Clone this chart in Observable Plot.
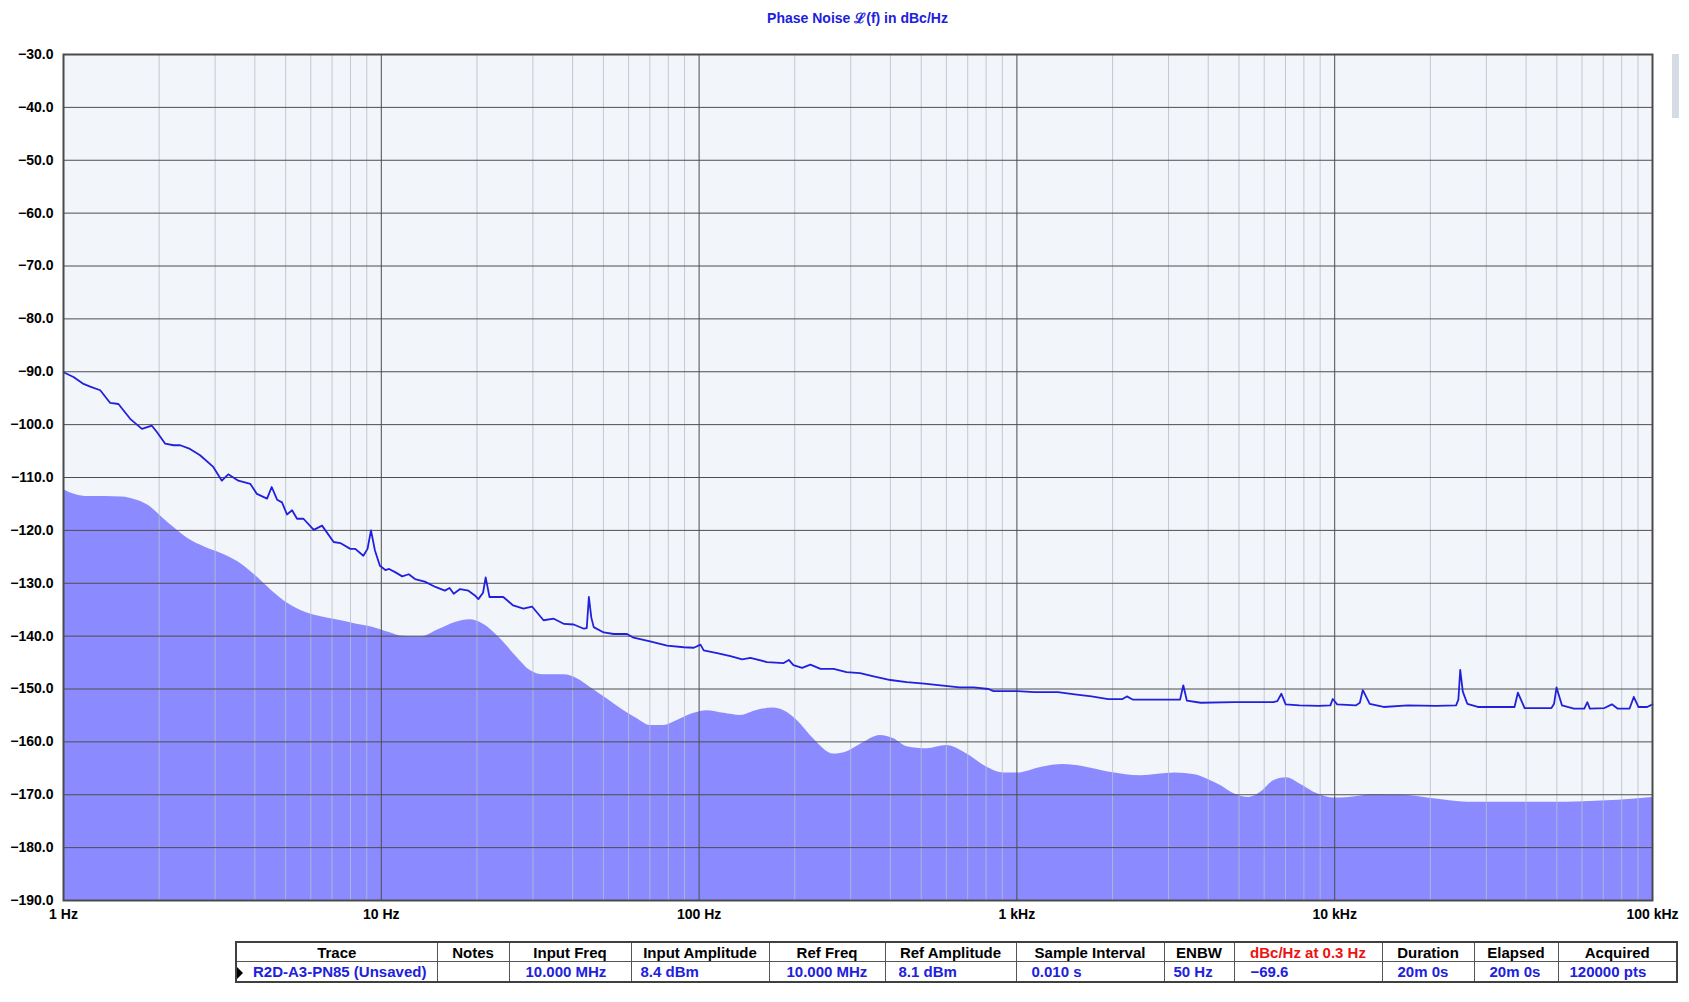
<!DOCTYPE html>
<html>
<head>
<meta charset="utf-8">
<script src="https://cdn.jsdelivr.net/npm/d3@7"></script>
<script src="https://cdn.jsdelivr.net/npm/@observablehq/plot@0.6"></script>
<style>
  body { margin: 0; background: #ffffff; font-family: Arial, "Liberation Sans", sans-serif; }
  #title { position: absolute; left: 63px; width: 1589px; top: 8px; text-align: center;
           font-size: 14px; font-weight: bold; color: #2020dd; }
  #chart { position: absolute; left: 0; top: 0; }
  #chart svg { overflow: visible; }
  #scroll { position: absolute; left: 1672px; top: 54px; width: 7px; height: 64px; background: #d6dce6; }
  #info { position: absolute; left: 235px; top: 941px; width: 1441px; border-collapse: collapse;
          border: 2px solid #404040; font-size: 15px; font-weight: bold; table-layout: fixed; }
  #info th, #info td { border: 1px solid #555; padding: 0; white-space: nowrap; overflow: hidden; }
  #info th { height: 18px; text-align: center; color: #000; font-weight: bold; }
  #info td { height: 19px; text-align: left; color: #2020dd; }
  #info th.red { color: #ee1111; }
  .tri { display: inline-block; width: 0; height: 0; border-top: 6px solid transparent; border-bottom: 6px solid transparent;
         border-left: 6px solid #000; vertical-align: middle; margin-right: 10px; margin-left: 0; }
</style>
</head>
<body>
<div id="title">Phase Noise ℒ(f) in dBc/Hz</div>
<div id="chart"></div>
<div id="scroll"></div>
<table id="info"></table>
<script>
// ---------- Data ----------
const xTickValues = [1, 10, 100, 1000, 10000, 100000];
const xTickLabels = ["1 Hz", "10 Hz", "100 Hz", "1 kHz", "10 kHz", "100 kHz"];
const yTickValues = [-30, -40, -50, -60, -70, -80, -90, -100, -110, -120, -130, -140, -150, -160, -170, -180, -190];
const yTickLabels = ["−30.0", "−40.0", "−50.0", "−60.0", "−70.0", "−80.0", "−90.0", "−100.0", "−110.0", "−120.0",
                     "−130.0", "−140.0", "−150.0", "−160.0", "−170.0", "−180.0", "−190.0"];

// Measured phase-noise trace (Hz, dBc/Hz)
const traceFreq = [1, 1.075, 1.156, 1.213, 1.305, 1.403, 1.489, 1.621, 1.765, 1.897, 1.967, 2.09, 2.22, 2.33, 2.5, 2.69,
  2.96, 3.15, 3.3, 3.55, 3.87, 4.06, 4.37, 4.52, 4.7, 4.87, 5.05, 5.24, 5.43, 5.69, 6.13, 6.51, 7.08, 7.43, 7.99, 8.28,
  8.78, 9.05, 9.28, 9.55, 9.9, 10.3, 10.58, 11.05, 11.64, 12.2, 12.77, 13.7, 14.8, 15.85, 16.4, 16.9, 17.7, 18.8, 19.7,
  20.2, 20.9, 21.3, 21.9, 24.2, 26.0, 28.0, 29.8, 32.4, 34.9, 37.6, 40.3, 43.4, 44.3, 45.0, 45.8, 46.6, 50.1, 53.9,
  59.3, 62.2, 70.1, 79.3, 89.5, 96.3, 101, 103.4, 113.9, 125.5, 136.6, 145, 163.5, 184.6, 191.6, 198, 211, 224, 241,
  265, 291, 321, 354, 400, 450, 511, 575, 660, 730, 814, 844, 1005, 1134, 1346, 1520, 1717, 1937, 2150, 2218, 2313,
  2651, 3144, 3262, 3339, 3426, 3790, 4818, 6406, 6600, 6796, 7010, 7747, 8920, 9690, 9860, 10180, 11650, 12000, 12260,
  12890, 14250, 16990, 20840, 24100, 24500, 24830, 25300, 26140, 28200, 33700, 36800, 37700, 39600, 48100, 49000, 49900,
  51900, 56600, 61000, 62400, 63500, 70600, 74500, 77600, 84700, 87300, 90300, 96200, 100000];
const traceLevel = [-90.1, -91.0, -92.3, -92.8, -93.5, -95.9, -96.1, -98.9, -100.8, -100.2, -101.4, -103.6, -103.9,
  -103.9, -104.6, -105.8, -108.0, -110.6, -109.4, -110.6, -111.2, -113.1, -114.0, -111.8, -114.2, -114.7, -117.0,
  -116.2, -117.8, -117.8, -119.9, -119.1, -122.2, -122.4, -123.5, -123.5, -124.8, -123.5, -120.0, -123.8, -126.7,
  -127.5, -127.3, -127.9, -128.7, -128.3, -129.2, -129.7, -130.7, -131.4, -130.9, -132.0, -131.1, -131.4, -132.3,
  -133.0, -131.8, -128.9, -132.6, -132.6, -134.2, -134.8, -134.4, -137.0, -136.7, -137.7, -137.8, -138.6, -138.5,
  -132.6, -136.5, -138.3, -139.3, -139.6, -139.6, -140.3, -141.0, -141.8, -142.1, -142.2, -141.6, -142.7, -143.2,
  -143.8, -144.4, -144.1, -144.9, -145.1, -144.5, -145.5, -146.0, -145.4, -146.2, -146.2, -146.8, -147.0, -147.6,
  -148.3, -148.7, -149.0, -149.3, -149.7, -149.7, -150.0, -150.4, -150.4, -150.6, -150.6, -151.0, -151.4, -151.9,
  -151.9, -151.4, -152.0, -152.0, -152.0, -152.0, -149.3, -152.2, -152.6, -152.5, -152.5, -152.3, -150.9, -152.9,
  -153.1, -153.2, -153.1, -151.9, -152.9, -153.1, -152.6, -150.2, -152.8, -153.4, -153.1, -153.2, -153.1, -152.0,
  -146.4, -150.5, -152.8, -153.4, -153.4, -153.4, -150.7, -153.6, -153.6, -152.8, -149.7, -153.1, -153.7, -153.7,
  -152.5, -153.7, -153.6, -152.9, -153.7, -153.7, -151.5, -153.4, -153.4, -152.9];

// Shaded region (Hz, dBc/Hz)
const floorFreq = [1, 1.088, 1.198, 1.353, 1.527, 1.681, 1.852, 2.04, 2.25, 2.47, 2.79, 3.15, 3.55, 4.01, 4.52, 5.1,
  5.76, 6.52, 7.36, 8.3, 9.37, 10.58, 11.64, 13.4, 15.1, 17.1, 19.0, 20.9, 23.7, 26.7, 29.4, 32.4, 37.6, 41.5, 45.5,
  51.4, 58.0, 63.7, 70.1, 77.3, 85.0, 96.3, 106, 120, 135, 151, 171, 185, 204, 229, 265, 291, 321, 372, 410, 451, 522,
  601, 696, 805, 910, 1005, 1197, 1397, 1623, 1937, 2454, 3144, 3637, 3964, 4390, 4818, 5380, 5860, 6406, 7050, 7747,
  8820, 9950, 11100, 13190, 16320, 20840, 26140, 33700, 43200, 53600, 69000, 88200, 100000];
const floorLevel = [-112.3, -113.2, -113.6, -113.6, -113.7, -114.2, -115.3, -117.5, -119.7, -121.6, -123.2, -124.4,
  -126.0, -128.5, -131.4, -133.9, -135.5, -136.4, -137.0, -137.7, -138.3, -139.3, -140.0, -140.1, -138.8, -137.4,
  -136.9, -137.7, -140.5, -144.0, -146.5, -147.3, -147.3, -148.1, -149.7, -151.9, -154.1, -155.6, -156.9, -156.9,
  -156.0, -154.6, -154.1, -154.6, -155.0, -154.1, -153.6, -154.1, -156.0, -159.4, -162.3, -161.9, -160.5, -158.8,
  -159.4, -160.9, -161.3, -160.7, -162.3, -164.8, -165.9, -165.9, -164.8, -164.3, -164.7, -165.7, -166.4, -165.9,
  -166.2, -167.0, -168.3, -169.8, -170.5, -169.5, -167.4, -166.8, -167.9, -169.8, -170.6, -170.5, -170.0, -170.1,
  -170.8, -171.4, -171.4, -171.4, -171.4, -171.2, -170.8, -170.5];

// Info table
const tableHeaders = ["Trace", "Notes", "Input Freq", "Input Amplitude", "Ref Freq", "Ref Amplitude",
  "Sample Interval", "ENBW", "dBc/Hz at 0.3 Hz", "Duration", "Elapsed", "Acquired"];
const tableValues = ["R2D-A3-PN85 (Unsaved)", "", "10.000 MHz", "8.4 dBm", "10.000 MHz", "8.1 dBm",
  "0.010 s", "50 Hz", "−69.6", "20m 0s", "20m 0s", "120000 pts"];

// ---------- Build ----------
const trace = traceFreq.map((f, i) => ({f, v: traceLevel[i]}));
const floor = floorFreq.map((f, i) => ({f, v: floorLevel[i]}));
const minorX = [];
for (let k = 0; k < xTickValues.length - 1; k++) for (let m = 2; m <= 9; m++) minorX.push(m * xTickValues[k]);

const fontFam = "Arial, 'Liberation Sans', sans-serif";
const chart = Plot.plot({
  width: 1689, height: 930,
  marginTop: 54, marginLeft: 63, marginRight: 37, marginBottom: 30,
  x: {type: "log", domain: [1, 100000], label: null},
  y: {domain: [-190, -30], label: null},
  style: {fontFamily: fontFam, fontSize: "14px", fontWeight: "bold", color: "#000", background: "transparent"},
  marks: [
    Plot.frame({fill: "#f2f5fa"}),
    Plot.areaY(floor, {x: "f", y1: -190, y2: "v", fill: "#8b8bff", curve: "monotone-x"}),
    Plot.ruleX(minorX, {stroke: "#b8bec9", strokeOpacity: 0.8}),
    Plot.ruleX(xTickValues, {stroke: "#4d4d4d"}),
    Plot.ruleY(yTickValues, {stroke: "#4d4d4d"}),
    Plot.line(trace, {x: "f", y: "v", stroke: "#2121dd", strokeWidth: 1.8}),
    Plot.frame({stroke: "#4a4a4a", strokeWidth: 2}),
    Plot.axisX({ticks: xTickValues, tickFormat: d => xTickLabels[xTickValues.indexOf(d)], tickSize: 0,
                tickPadding: 9, fontSize: 14, fontWeight: "bold", fill: "#000", label: null}),
    Plot.axisY({ticks: yTickValues, tickFormat: d => yTickLabels[yTickValues.indexOf(d)], tickSize: 0,
                tickPadding: 10, fontSize: 14, fontWeight: "bold", fill: "#000", label: null})
  ]
});
document.getElementById("chart").appendChild(chart);

const colWidths = [201, 72, 122, 138, 116, 131, 148, 70, 148, 92, 84, 119];
const padLeft = [0, 0, 16, 9, 17, 13, 15, 9, 16, 15, 15, 11];
const table = document.getElementById("info");
const cg = document.createElement("colgroup");
colWidths.forEach(w => { const c = document.createElement("col"); c.style.width = w + "px"; cg.appendChild(c); });
table.appendChild(cg);
const hr = document.createElement("tr");
tableHeaders.forEach((h, i) => {
  const th = document.createElement("th");
  th.textContent = h;
  if (i === 8) th.className = "red";
  hr.appendChild(th);
});
table.appendChild(hr);
const dr = document.createElement("tr");
tableValues.forEach((v, i) => {
  const td = document.createElement("td");
  if (i === 0) {
    const t = document.createElement("span"); t.className = "tri"; td.appendChild(t);
    td.appendChild(document.createTextNode(v));
  } else {
    td.textContent = v;
  }
  td.style.paddingLeft = padLeft[i] + "px";
  dr.appendChild(td);
});
table.appendChild(dr);
</script>
</body>
</html>
